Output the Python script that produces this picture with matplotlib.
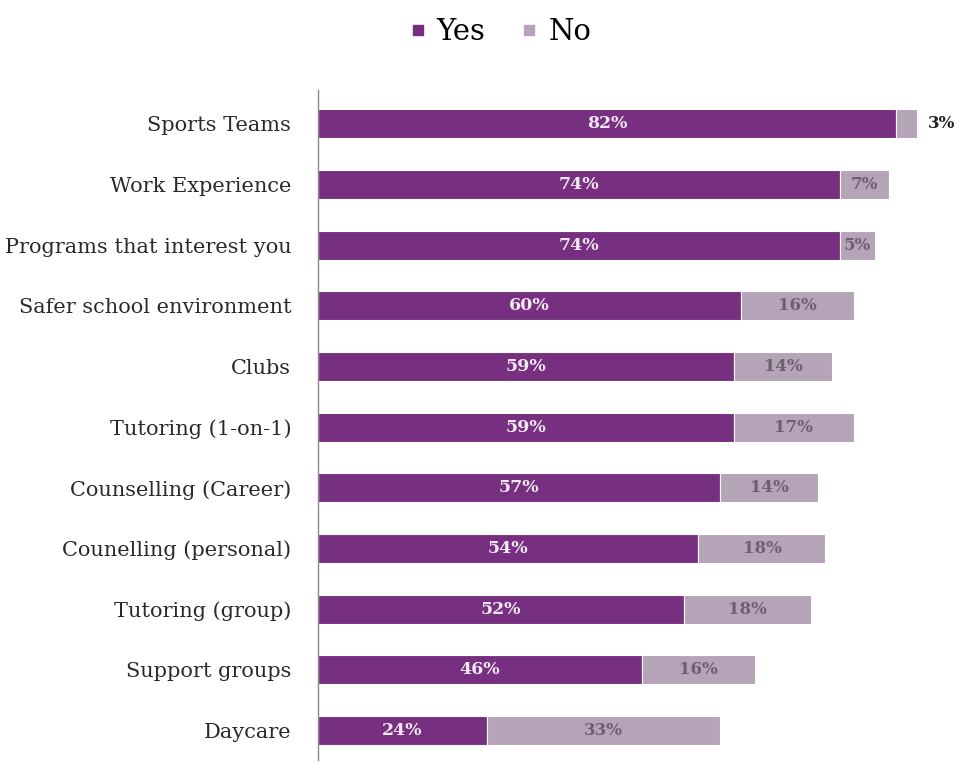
import numpy as np
import matplotlib.pyplot as plt
from matplotlib.lines import Line2D

plt.rcParams['font.family'] = ['DejaVu Serif', 'Liberation Serif']

categories = ['Sports Teams', 'Work Experience', 'Programs that interest you',
              'Safer school environment', 'Clubs', 'Tutoring (1-on-1)',
              'Counselling (Career)', 'Counelling (personal)', 'Tutoring (group)',
              'Support groups', 'Daycare']
yes = [82, 74, 74, 60, 59, 59, 57, 54, 52, 46, 24]
no = [3, 7, 5, 16, 14, 17, 14, 18, 18, 16, 33]

yes_color = '#76307f'
no_color = '#b5a4b7'

fig = plt.figure(figsize=(9.6, 7.62), dpi=100)
ax = fig.add_axes([0.331, 0.003, 0.661, 0.879])

y = np.arange(len(categories))
ax.barh(y, yes, height=0.48, color=yes_color, edgecolor='white', linewidth=0.8)
ax.barh(y, no, left=yes, height=0.48, color=no_color, edgecolor='white', linewidth=0.8)

for i in range(len(categories)):
    ax.text(yes[i] / 2, y[i], f'{yes[i]}%', ha='center', va='center',
            color='#f1e6f1', fontsize=12.5, fontweight='bold')
    if no[i] < 5:
        # too thin to hold its label, put it just past the bar
        ax.text(yes[i] + no[i] + 1.5, y[i], f'{no[i]}%', ha='left', va='center',
                color='#222222', fontsize=12, fontweight='bold')
    else:
        ax.text(yes[i] + no[i] / 2, y[i], f'{no[i]}%', ha='center', va='center',
                color='#6e5f70', fontsize=12, fontweight='bold')

ax.set_xlim(0, 90)
ax.set_ylim(10.48, -0.56)
ax.set_yticks(y)
ax.set_yticklabels(categories, fontsize=15, color='#2a2a2a')
ax.set_xticks([])
ax.tick_params(axis='y', length=0, pad=19)
for side in ['top', 'right', 'bottom']:
    ax.spines[side].set_visible(False)
ax.spines['left'].set_color('#8a8a8a')
ax.spines['left'].set_linewidth(1)

handles = [Line2D([], [], marker='s', linestyle='', markersize=7, color=yes_color),
           Line2D([], [], marker='s', linestyle='', markersize=7, color=no_color)]
fig.legend(handles, ['Yes', 'No'], loc='center', bbox_to_anchor=(0.521, 0.958),
           ncol=2, frameon=False, fontsize=21, handlelength=0.6,
           handletextpad=0.35, columnspacing=1.2)

fig.savefig('out.png', dpi=100, facecolor='white')
